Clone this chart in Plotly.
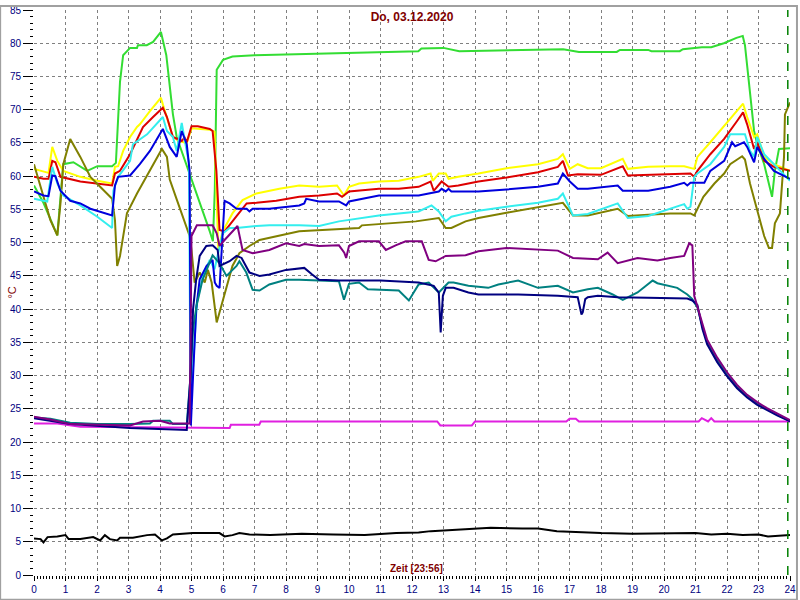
import plotly.graph_objects as go

# ---------------- data (hours, °C) ----------------
green_t = [0, 0.3, 0.74, 0.93, 1.25, 1.69, 2.01, 2.48, 2.6, 2.73, 2.83, 3.05, 3.27, 3.30, 3.58, 3.78, 4.03, 4.2, 4.41, 4.53,
           5.58, 5.68, 5.74, 5.8, 6.0, 6.3, 7.0, 8.0, 9.4, 11.0, 12.2, 12.3, 13.0, 13.5, 15.0, 16.5, 16.8, 17.3, 17.5, 18.5,
           18.6, 19.5, 19.6, 20.5, 20.6, 21.2, 21.5, 21.9, 22.3, 22.5, 22.57, 22.86, 22.96, 23.18, 23.43, 23.52, 23.65, 24.0]
green_v = [58.6, 56.0, 51.1, 61.8, 62.1, 60.8, 61.5, 61.5, 62.0, 74.2, 78.2, 79.3, 79.3, 79.7, 79.7, 80.2, 81.7, 78.2, 69.3, 65.9,
           51.7, 50.2, 58.0, 76.0, 77.5, 78.0, 78.2, 78.3, 78.5, 78.6, 78.8, 79.2, 79.3, 78.8, 78.9, 79.0, 79.1, 78.7, 78.7, 78.7,
           79.0, 79.0, 78.8, 78.8, 79.1, 79.4, 79.4, 80.0, 80.8, 81.1, 79.7, 66.8, 64.8, 61.8, 56.9, 60.8, 64.1, 64.2]

yellow_t = [0, 0.3, 0.46, 0.58, 0.74, 0.93, 1.47, 2.01, 2.48, 2.57, 2.67, 2.83, 3.05, 3.27, 3.36, 3.68, 4.03, 4.09, 4.22, 4.41,
            4.6, 4.85, 5.0, 5.58, 5.73, 5.85, 5.99, 6.3, 6.62, 7.06, 7.79, 8.42, 9.05, 9.62, 9.84, 10.0, 10.32, 10.95, 11.58,
            12.21, 12.59, 12.66, 12.85, 13.07, 13.16, 13.47, 14.11, 15.0, 16.0, 16.63, 16.79, 17.01, 17.26, 17.58, 18.0, 18.69,
            18.85, 19.5, 20.2, 20.64, 20.96, 21.06, 21.47, 21.91, 22.32, 22.51, 22.64, 22.86, 22.96, 23.18, 23.49, 24.0]
yellow_v = [61.1, 60.7, 60.5, 64.4, 62.3, 60.8, 59.9, 59.3, 58.9, 61.4, 61.5, 63.8, 65.9, 67.4, 67.8, 69.8, 71.8, 70.8, 68.9, 65.9,
            65.3, 65.0, 67.2, 67.0, 66.7, 49.0, 51.7, 54.4, 56.4, 57.4, 58.1, 58.6, 58.4, 58.6, 57.1, 58.4, 58.9, 59.2, 59.3,
            59.9, 60.4, 59.3, 60.4, 60.4, 59.6, 59.9, 60.4, 61.2, 61.8, 62.6, 63.3, 61.1, 61.8, 61.2, 61.2, 62.6,
            61.1, 61.4, 61.5, 61.5, 61.1, 62.9, 65.1, 67.5, 69.7, 70.9, 68.9, 65.9, 66.3, 62.9, 61.8, 60.8]

red_t = [0, 0.3, 0.46, 0.58, 0.68, 0.84, 1.47, 2.01, 2.48, 2.57, 2.73, 3.05, 3.46, 3.78, 4.09, 4.22, 4.41, 4.69, 4.78, 4.85,
         5.0, 5.2, 5.58, 5.67, 5.79, 5.89, 6.05, 6.43, 6.75, 7.06, 7.69, 8.42, 9.05, 9.62, 9.78, 10.0, 10.32, 10.95, 11.58,
         12.21, 12.59, 12.69, 12.94, 13.16, 13.47, 14.11, 15.0, 16.0, 16.63, 16.79, 16.95, 17.26, 18.0, 18.69, 18.85, 19.5,
         20.2, 20.84, 20.96, 21.06, 21.47, 21.91, 22.32, 22.51, 22.64, 22.86, 22.96, 23.18, 23.49, 24.0]
red_v = [59.9, 59.6, 59.6, 62.3, 62.1, 59.9, 59.2, 58.9, 58.6, 60.4, 60.8, 63.3, 67.4, 68.9, 70.3, 68.9, 65.9, 65.3, 65.8, 65.1,
         67.5, 67.5, 67.1, 66.8, 60.8, 51.9, 51.7, 54.0, 55.9, 56.0, 56.3, 56.9, 57.1, 57.4, 56.9, 57.7, 57.8, 58.1, 58.1,
         58.4, 59.2, 57.8, 59.2, 58.4, 58.6, 59.2, 59.8, 60.6, 61.4, 62.3, 60.1, 60.3, 60.2, 61.5, 60.1, 60.2,
         60.2, 60.4, 59.9, 60.8, 63.3, 65.6, 68.3, 69.6, 67.8, 64.1, 65.1, 62.3, 61.4, 60.8]

cyan_t = [0, 0.42, 0.58, 0.74, 0.93, 1.47, 2.01, 2.48, 2.52, 2.67, 3.05, 3.14, 3.59, 4.09, 4.22, 4.41, 4.53, 4.69, 4.8, 4.92,
          4.97, 5.05, 5.17, 5.36, 5.58, 5.73, 5.85, 5.99, 6.21, 6.43, 7.06, 7.47, 8.42, 9.05, 9.68, 10.32, 10.95, 11.58, 12.21,
          12.62, 12.85, 13.07, 13.25, 13.70, 14.11, 15.0, 16.0, 16.63, 16.79, 17.11, 17.58, 18.53, 18.85, 19.5, 20.64, 20.74,
          20.84, 20.96, 21.06, 21.47, 21.91, 22.1, 22.57, 22.73, 22.86, 22.96, 23.18, 23.49, 24.0]
cyan_v = [56.6, 56.2, 61.4, 58.9, 57.1, 55.6, 53.9, 52.2, 57.8, 59.9, 62.3, 64.8, 66.3, 68.9, 66.8, 65.9, 63.8, 68.0, 65.0, 62.0,
          25.0, 32.0, 41.0, 45.0, 47.4, 46.0, 48.5, 51.4, 52.2, 52.2, 52.5, 52.6, 52.6, 52.5, 53.2, 53.7, 54.1, 54.4, 54.7,
          55.6, 54.7, 53.2, 53.9, 54.4, 54.8, 55.4, 56.0, 56.6, 57.4, 54.1, 54.3, 55.9, 53.7, 54.0, 55.8, 55.1,
          55.4, 59.9, 60.4, 61.8, 64.4, 66.3, 66.3, 63.8, 62.9, 65.9, 63.3, 61.8, 59.3]

blue_t = [0, 0.3, 0.46, 0.58, 0.68, 0.84, 1.15, 1.47, 1.79, 2.10, 2.48, 2.57, 2.67, 3.05, 3.36, 3.68, 4.09, 4.31, 4.53, 4.69,
          4.85, 4.94, 4.98, 5.05, 5.15, 5.26, 5.48, 5.67, 5.74, 5.80, 5.89, 5.96, 6.05, 6.21, 6.43, 6.75, 6.84, 6.94, 7.47,
          8.42, 8.58, 8.64, 9.05, 9.68, 9.91, 10.0, 10.95, 11.58, 12.21, 12.85, 12.94, 13.07, 13.16, 13.25, 14.11, 15.0, 16.0,
          16.63, 16.79, 17.01, 17.26, 17.58, 18.53, 18.69, 19.5, 20.2, 20.64, 20.74, 20.84, 21.28, 21.47, 21.91, 22.16, 22.26,
          22.54, 22.64, 22.86, 22.96, 23.18, 23.49, 23.9, 24.0]
blue_v = [57.7, 57.1, 57.0, 60.1, 60.0, 57.8, 56.3, 55.9, 55.1, 54.7, 54.1, 58.6, 59.9, 60.1, 61.8, 63.8, 67.1, 64.4, 62.9, 66.8,
          64.8, 60.8, 22.5, 30.0, 40.0, 44.5, 46.5, 47.4, 44.0, 43.5, 43.2, 49.0, 56.3, 55.9, 55.1, 55.1, 54.7, 55.1, 55.1,
          55.6, 55.9, 56.6, 56.2, 56.2, 55.6, 56.2, 57.1, 57.1, 57.1, 57.7, 58.1, 57.7, 58.1, 57.7, 57.7, 58.0, 58.4,
          58.9, 60.4, 59.2, 58.1, 58.1, 58.6, 57.8, 57.8, 58.4, 59.0, 58.6, 59.0, 59.0, 60.8, 62.3, 65.1, 64.5,
          65.1, 64.4, 62.1, 64.4, 62.6, 60.8, 59.9, 59.6]

olive_t = [0, 0.21, 0.52, 0.74, 0.84, 0.93, 1.15, 1.47, 1.79, 2.10, 2.48, 2.57, 2.64, 2.73, 2.95, 3.27, 3.68, 4.06, 4.22, 4.31,
           4.53, 4.72, 4.94, 5.0, 5.10, 5.26, 5.42, 5.52, 5.64, 5.80, 5.99, 6.30, 6.52, 6.84, 7.16, 7.79, 8.42, 10.32, 10.41,
           12.12, 12.85, 13.07, 13.25, 13.70, 14.11, 15.0, 16.0, 16.63, 16.79, 17.11, 17.58, 18.53, 18.85, 19.5, 20.2, 20.84,
           20.96, 21.25, 21.60, 21.91, 22.10, 22.48, 22.57, 22.73, 22.96, 23.18, 23.33, 23.43, 23.52, 23.68, 23.81, 23.84, 24.0]
olive_v = [61.8, 58.4, 53.4, 51.1, 55.9, 61.8, 65.6, 62.9, 59.9, 58.4, 56.6, 53.4, 46.5, 48.0, 54.4, 57.4, 60.8, 64.1, 62.9, 59.5,
           56.5, 53.9, 51.0, 48.9, 44.0, 45.5, 44.0, 45.9, 44.0, 38.0, 41.4, 46.5, 48.4, 49.5, 50.4, 51.1, 51.7, 52.2, 52.6,
           53.2, 53.7, 52.2, 52.2, 53.2, 53.7, 54.5, 55.3, 55.9, 56.0, 54.1, 54.1, 55.1, 54.0, 54.2, 54.4, 54.4,
           54.1, 56.9, 58.9, 60.4, 61.8, 63.0, 62.5, 58.9, 54.8, 51.0, 49.2, 49.2, 52.9, 54.4, 62.9, 69.3, 71.1]

purple_t = [0, 0.52, 1.15, 3.05, 3.46, 4.0, 4.31, 4.94, 4.97, 5.0, 5.17, 5.67, 5.80, 5.89, 6.05, 6.46, 6.62, 6.94, 7.47, 8.0,
            8.42, 8.58, 9.05, 9.68, 9.85, 9.91, 10.0, 10.32, 10.95, 11.17, 11.48, 11.80, 12.31, 12.53, 12.75, 13.07, 13.70,
            14.11, 15.0, 16.0, 16.63, 17.11, 17.9, 18.21, 18.53, 19.16, 19.79, 20.2, 20.64, 20.80, 20.90, 20.96, 21.06,
            21.22, 21.37, 21.69, 22.0, 22.32, 22.64, 22.96, 23.27, 23.59, 24.0]
purple_v = [23.8, 23.4, 22.7, 22.5, 23.1, 23.2, 22.8, 22.8, 35.0, 51.0, 52.6, 52.6, 51.4, 49.5, 50.4, 52.5, 48.9, 48.4, 48.9, 49.9,
            49.5, 49.8, 49.5, 49.6, 48.5, 47.7, 49.5, 50.2, 50.2, 48.9, 49.6, 50.2, 50.2, 47.4, 47.2, 48.0, 48.1,
            48.7, 49.2, 49.0, 48.8, 47.7, 47.5, 48.5, 46.9, 47.7, 47.3, 47.7, 48.0, 49.9, 49.6, 42.0, 40.5,
            37.8, 35.4, 32.7, 30.5, 28.6, 27.1, 26.0, 25.1, 24.3, 23.3]

teal_t = [0, 0.52, 1.15, 2.01, 3.05, 3.68, 3.78, 4.31, 4.41, 4.85, 4.97, 5.05, 5.16, 5.35, 5.67, 5.89, 6.11, 6.43, 6.52, 6.74,
          6.94, 7.16, 7.47, 8.0, 8.42, 9.68, 9.84, 10.0, 10.32, 10.6, 11.58, 11.90, 12.21, 12.53, 12.85, 13.16, 13.32, 13.79,
          14.42, 14.74, 15.37, 16.0, 16.63, 17.11, 17.58, 17.9, 18.37, 18.69, 19.16, 19.64, 19.79, 20.42, 20.74, 20.90, 20.96,
          21.06, 21.22, 21.37, 21.69, 22.0, 22.32, 22.64, 22.96, 23.27, 23.59, 24.0]
teal_v = [23.7, 23.5, 22.9, 22.7, 22.7, 22.8, 23.2, 23.2, 22.7, 22.7, 30.0, 37.0, 40.5, 44.4, 48.1, 46.9, 45.0, 46.5, 47.2, 45.5,
          42.9, 42.8, 43.7, 44.4, 44.4, 44.2, 41.4, 43.8, 44.0, 43.0, 42.8, 41.3, 43.7, 44.0, 42.5, 44.0, 44.0, 43.5,
          43.2, 43.7, 44.3, 43.2, 43.5, 42.5, 43.0, 43.2, 42.2, 41.4, 42.5, 44.3, 43.9, 43.2, 42.2, 41.5, 41.0,
          40.3, 37.4, 35.0, 32.3, 30.1, 28.3, 26.9, 25.8, 24.9, 24.1, 23.2]

navy_t = [0, 1.15, 3.05, 4.0, 4.85, 4.97, 5.05, 5.15, 5.26, 5.47, 5.67, 5.83, 5.89, 6.21, 6.43, 6.59, 6.84, 7.16, 7.47, 8.0,
          8.42, 8.58, 8.83, 9.05, 9.68, 11.0, 12.21, 12.69, 12.85, 12.91, 12.98, 13.07, 13.32, 13.79, 14.11, 15.37, 16.63,
          17.26, 17.38, 17.42, 17.50, 17.58, 17.9, 18.53, 19.48, 20.74, 20.90, 20.96, 21.06,
          21.22, 21.37, 21.69, 22.0, 22.32, 22.64, 22.96, 23.27, 23.59, 24.0]
navy_v = [23.6, 22.7, 22.1, 21.9, 21.8, 30.0, 40.0, 44.5, 48.0, 49.5, 49.6, 48.9, 46.5, 47.2, 48.0, 47.7, 45.5, 45.0, 45.2, 45.9,
          46.2, 46.2, 45.2, 44.4, 44.3, 44.3, 44.0, 43.5, 42.5, 36.5, 42.0, 43.2, 43.2, 42.5, 42.2, 42.2, 42.0,
          41.8, 39.2, 39.5, 41.5, 41.8, 42.0, 41.8, 41.7, 41.6, 41.3, 41.0, 40.6,
          37.0, 34.7, 32.0, 29.9, 28.1, 26.7, 25.6, 24.8, 24.0, 23.1]

magenta_t = [0, 0.74, 1.47, 4.94, 5.4, 6.21, 6.25, 7.15, 7.2, 12.8, 12.9, 13.9, 14.0, 16.9, 17.0, 17.2, 17.3,
             21.1, 21.2, 21.4, 21.5, 21.6, 24.0]
magenta_v = [22.8, 22.8, 22.3, 22.1, 22.1, 22.1, 22.6, 22.6, 23.1, 23.1, 22.5, 22.5, 23.1, 23.1, 23.5, 23.5, 23.1,
             23.1, 23.6, 23.1, 23.6, 23.1, 23.1]

black_t = [0, 0.21, 0.30, 0.43, 0.74, 1.0, 1.10, 1.47, 1.88, 2.10, 2.25, 2.41, 2.64, 2.73, 3.14, 3.59, 3.84, 4.06, 4.22, 4.41,
           5.04, 5.89, 6.05, 6.30, 6.52, 6.84, 7.5, 8.5, 9.5, 10.5, 11.5, 12.21, 12.6, 13.0, 13.5, 14.5, 15.5, 16.0, 16.6,
           17.3, 18.0, 19.0, 20.0, 21.0, 21.5, 22.0, 22.5, 23.0, 23.3, 24.0]
black_v = [5.5, 5.4, 4.9, 5.7, 5.8, 6.0, 5.4, 5.4, 5.7, 5.2, 6.0, 5.4, 5.2, 5.6, 5.6, 6.0, 6.1, 5.2, 5.5, 6.1,
           6.3, 6.3, 5.8, 6.0, 6.3, 6.1, 6.0, 6.2, 6.1, 6.0, 6.3, 6.4, 6.6, 6.7, 6.9, 7.1, 7.0, 7.0, 6.6,
           6.4, 6.3, 6.2, 6.3, 6.3, 6.1, 6.2, 6.0, 6.1, 5.8, 6.0]

now_h = 23.93
title_text = "Do, 03.12.2020"
xlabel_text = "Zeit [23:56]"
ylabel_text = "°C"

series = [
    (black_t, black_v, "#000000"),
    (magenta_t, magenta_v, "#E020E0"),
    (green_t, green_v, "#33DD33"),
    (yellow_t, yellow_v, "#FFFF00"),
    (red_t, red_v, "#DD0000"),
    (olive_t, olive_v, "#808000"),
    (cyan_t, cyan_v, "#33EEEE"),
    (blue_t, blue_v, "#0000DD"),
    (teal_t, teal_v, "#008080"),
    (navy_t, navy_v, "#000080"),
    (purple_t, purple_v, "#800080"),
]

fig = go.Figure()
for t, v, c in series:
    fig.add_trace(go.Scatter(x=t, y=v, mode="lines", line=dict(color=c, width=2), showlegend=False, hoverinfo="skip"))

W, H = 800, 600
ml, mr, mt, mb = 34, 7, 4, 25
pw, ph = W - ml - mr, H - mt - mb

axis_common = dict(
    showgrid=True, gridcolor="#808080", gridwidth=1, griddash="3px,3px",
    zeroline=False, showline=False, ticks="outside", tickcolor="#000000", tickwidth=1,
    ticklabeloverflow="allow",
    tickfont=dict(family="Liberation Sans, Arial, sans-serif", size=10, color="#000080"),
)
fig.update_layout(
    width=W, height=H, margin=dict(l=ml, r=mr, t=mt, b=mb),
    paper_bgcolor="white", plot_bgcolor="white",
    title=dict(text="<b>" + title_text + "</b>", x=0.5, xref="paper", xanchor="center",
               y=1 - 17 / H, yref="container", yanchor="middle",
               font=dict(family="Liberation Sans, Arial, sans-serif", size=12, color="#800000")),
    xaxis=dict(range=[0, 24], tick0=0, dtick=1, ticklen=5,
               minor=dict(dtick=0.1, ticks="outside", ticklen=3, tickcolor="#000000", showgrid=False),
               **axis_common),
    yaxis=dict(range=[0, 85], tick0=0, dtick=5, ticklen=10,
               minor=dict(dtick=1, ticks="outside", ticklen=3, tickcolor="#000000", showgrid=False),
               **axis_common),
    annotations=[
        dict(text="<b>" + xlabel_text + "</b>", x=(418 - ml) / pw, xref="paper", y=1.0, yref="y",
             xanchor="center", yanchor="middle", showarrow=False,
             font=dict(family="Liberation Sans, Arial, sans-serif", size=10, color="#800000")),
        dict(text=ylabel_text, x=(11 - ml) / pw, xref="paper", y=42.5, yref="y", textangle=-90,
             xanchor="center", yanchor="middle", showarrow=False,
             font=dict(family="Liberation Sans, Arial, sans-serif", size=11, color="#800000")),
    ],
    shapes=[
        dict(type="line", x0=now_h, x1=now_h, y0=0, y1=85, xref="x", yref="y",
             line=dict(color="#008000", width=1.5, dash="dash")),
        dict(type="rect", xref="paper", yref="paper",
             x0=-ml / pw, x1=1 + mr / pw, y0=-mb / ph, y1=1 + mt / ph,
             line=dict(color="#A0A0A0", width=2), layer="above"),
    ],
)

fig.write_html("out.html", config={"displayModeBar": False},
               post_script="document.body.style.margin='0';document.body.style.overflow='hidden';")
